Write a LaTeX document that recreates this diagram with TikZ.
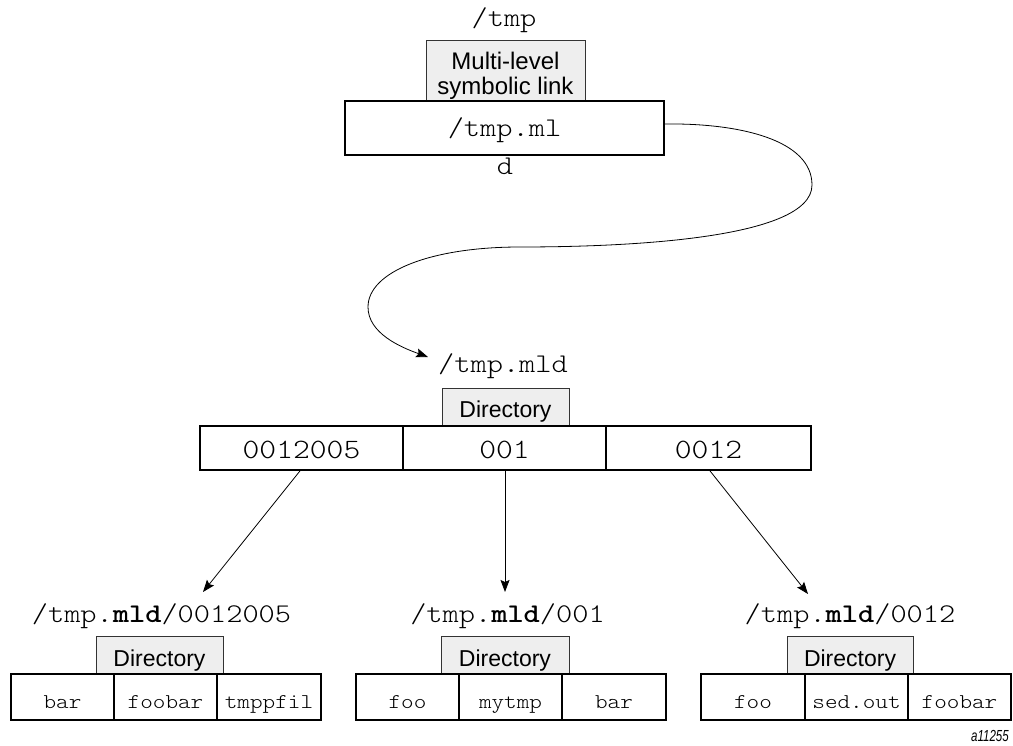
\documentclass[tikz,border=0pt]{standalone}
\usepackage{fontspec}
\setmainfont{Liberation Sans}
\setmonofont[FakeStretch=1.143]{lmmonolt10-regular.otf}
\newfontfamily\monobold[FakeStretch=1.143]{lmmonolt10-bold.otf}
\usetikzlibrary{arrows.meta}
\definecolor{boxgray}{HTML}{EEEEEE}
\begin{document}
\begin{tikzpicture}[x=1pt,y=-1pt,
  gbox/.style={draw=black!80,line width=0.8pt,fill=boxgray,inner sep=0pt,
    font=\fontsize{23}{25}\selectfont},
  cell/.style={draw,line width=1.8pt,inner sep=0pt,text height=22pt,text depth=0pt,
    minimum height=46pt,font=\ttfamily\fontsize{21}{23}\selectfont},
  bigcell/.style={draw,line width=1.8pt,inner sep=0pt,text height=20pt,text depth=0pt,
    minimum height=44pt,font=\ttfamily\fontsize{28}{30}\selectfont},
  lab/.style={inner sep=0pt,anchor=base,font=\ttfamily\fontsize{27}{29}\selectfont},
  sanslab/.style={inner sep=0pt,anchor=base,font=\fontsize{24}{26}\selectfont},
  conn/.style={line width=0.8pt,-{Stealth[length=12pt,width=9pt,inset=2pt]}}]
\useasboundingbox (0,0) rectangle (1013,746);

% top
\node[lab] (tmp) at (504,27) {/tmp};
\node[gbox,minimum width=159pt,minimum height=61pt] (mlbox) at (505.5,70.5) {};
\node[sanslab] (ml1) at (505.5,70) {Multi-level};
\node[sanslab] (ml2) at (505.5,95) {symbolic link};
\node[bigcell,minimum width=319pt,minimum height=54pt,text height=18pt,font=\ttfamily\fontsize{27}{29}\selectfont] (tmpml) at (504.5,128) {/tmp.ml};
\node[lab] (d) at (505,175) {d};

% middle
\node[lab] (mld) at (503,372) {/tmp.mld};
\node[gbox,minimum width=127pt,minimum height=38pt,text height=20pt,text depth=0pt] (dirm) at (505.5,407) {Directory};
\node[bigcell,minimum width=203pt] (c1) at (301.5,448) {0012005};
\node[bigcell,minimum width=203pt] (c2) at (504.5,448) {001};
\node[bigcell,minimum width=205pt] (c3) at (708.5,448) {0012};

% curve
\coordinate (tip) at (428,357);
\draw[conn] ([yshift=4pt]tmpml.east) .. controls (740,123) and (812,140) .. (812,185)
  .. controls (812,240) and (620,247) .. (520,247)
  .. controls (430,247) and (368,272) .. (368,307)
  .. controls (368,333) and (400,347) .. (tip);

% bottom labels
\node[lab] (l1) at (161.5,622) {/tmp.{\monobold mld}/0012005};
\node[lab] (l2) at (507.5,622) {/tmp.{\monobold mld}/001};
\node[lab] (l3) at (850,622) {/tmp.{\monobold mld}/0012};

\coordinate (e1) at (203,592);
\coordinate (e2) at (505,592);
\coordinate (e3) at (808,594);
\draw[conn] ([xshift=-1.5pt]c1.south) -- (e1);
\draw[conn] ([xshift=0.5pt]c2.south) -- (e2);
\draw[conn] ([xshift=1.5pt]c3.south) -- (e3);

% bottom left
\tikzset{gsmall/.style={gbox,minimum height=38pt,text height=22pt,text depth=0pt}}
\node[gsmall,minimum width=127pt] (dl) at (159.5,655) {Directory};
\node[cell,minimum width=103pt] (l1a) at (62.5,697) {bar};
\node[cell,minimum width=103pt] (l1b) at (165.5,697) {foobar};
\node[cell,minimum width=104pt] (l1c) at (269,697) {tmppfil};

% bottom middle
\node[gsmall,minimum width=128pt] (dmid) at (505,655) {Directory};
\node[cell,minimum width=103pt] (l2a) at (407.5,697) {foo};
\node[cell,minimum width=103pt] (l2b) at (510.5,697) {mytmp};
\node[cell,minimum width=104pt] (l2c) at (614,697) {bar};

% bottom right
\node[gsmall,minimum width=126pt] (dr) at (850,655) {Directory};
\node[cell,minimum width=104pt] (l3a) at (753,697) {foo};
\node[cell,minimum width=103pt] (l3b) at (856.5,697) {sed.out};
\node[cell,minimum width=103pt] (l3c) at (959.5,697) {foobar};

\node[inner sep=0pt,font=\itshape\fontsize{16}{18}\selectfont] (tag) at (990,736) {\scalebox{0.72}[1]{a11255}};
\end{tikzpicture}
\end{document}
